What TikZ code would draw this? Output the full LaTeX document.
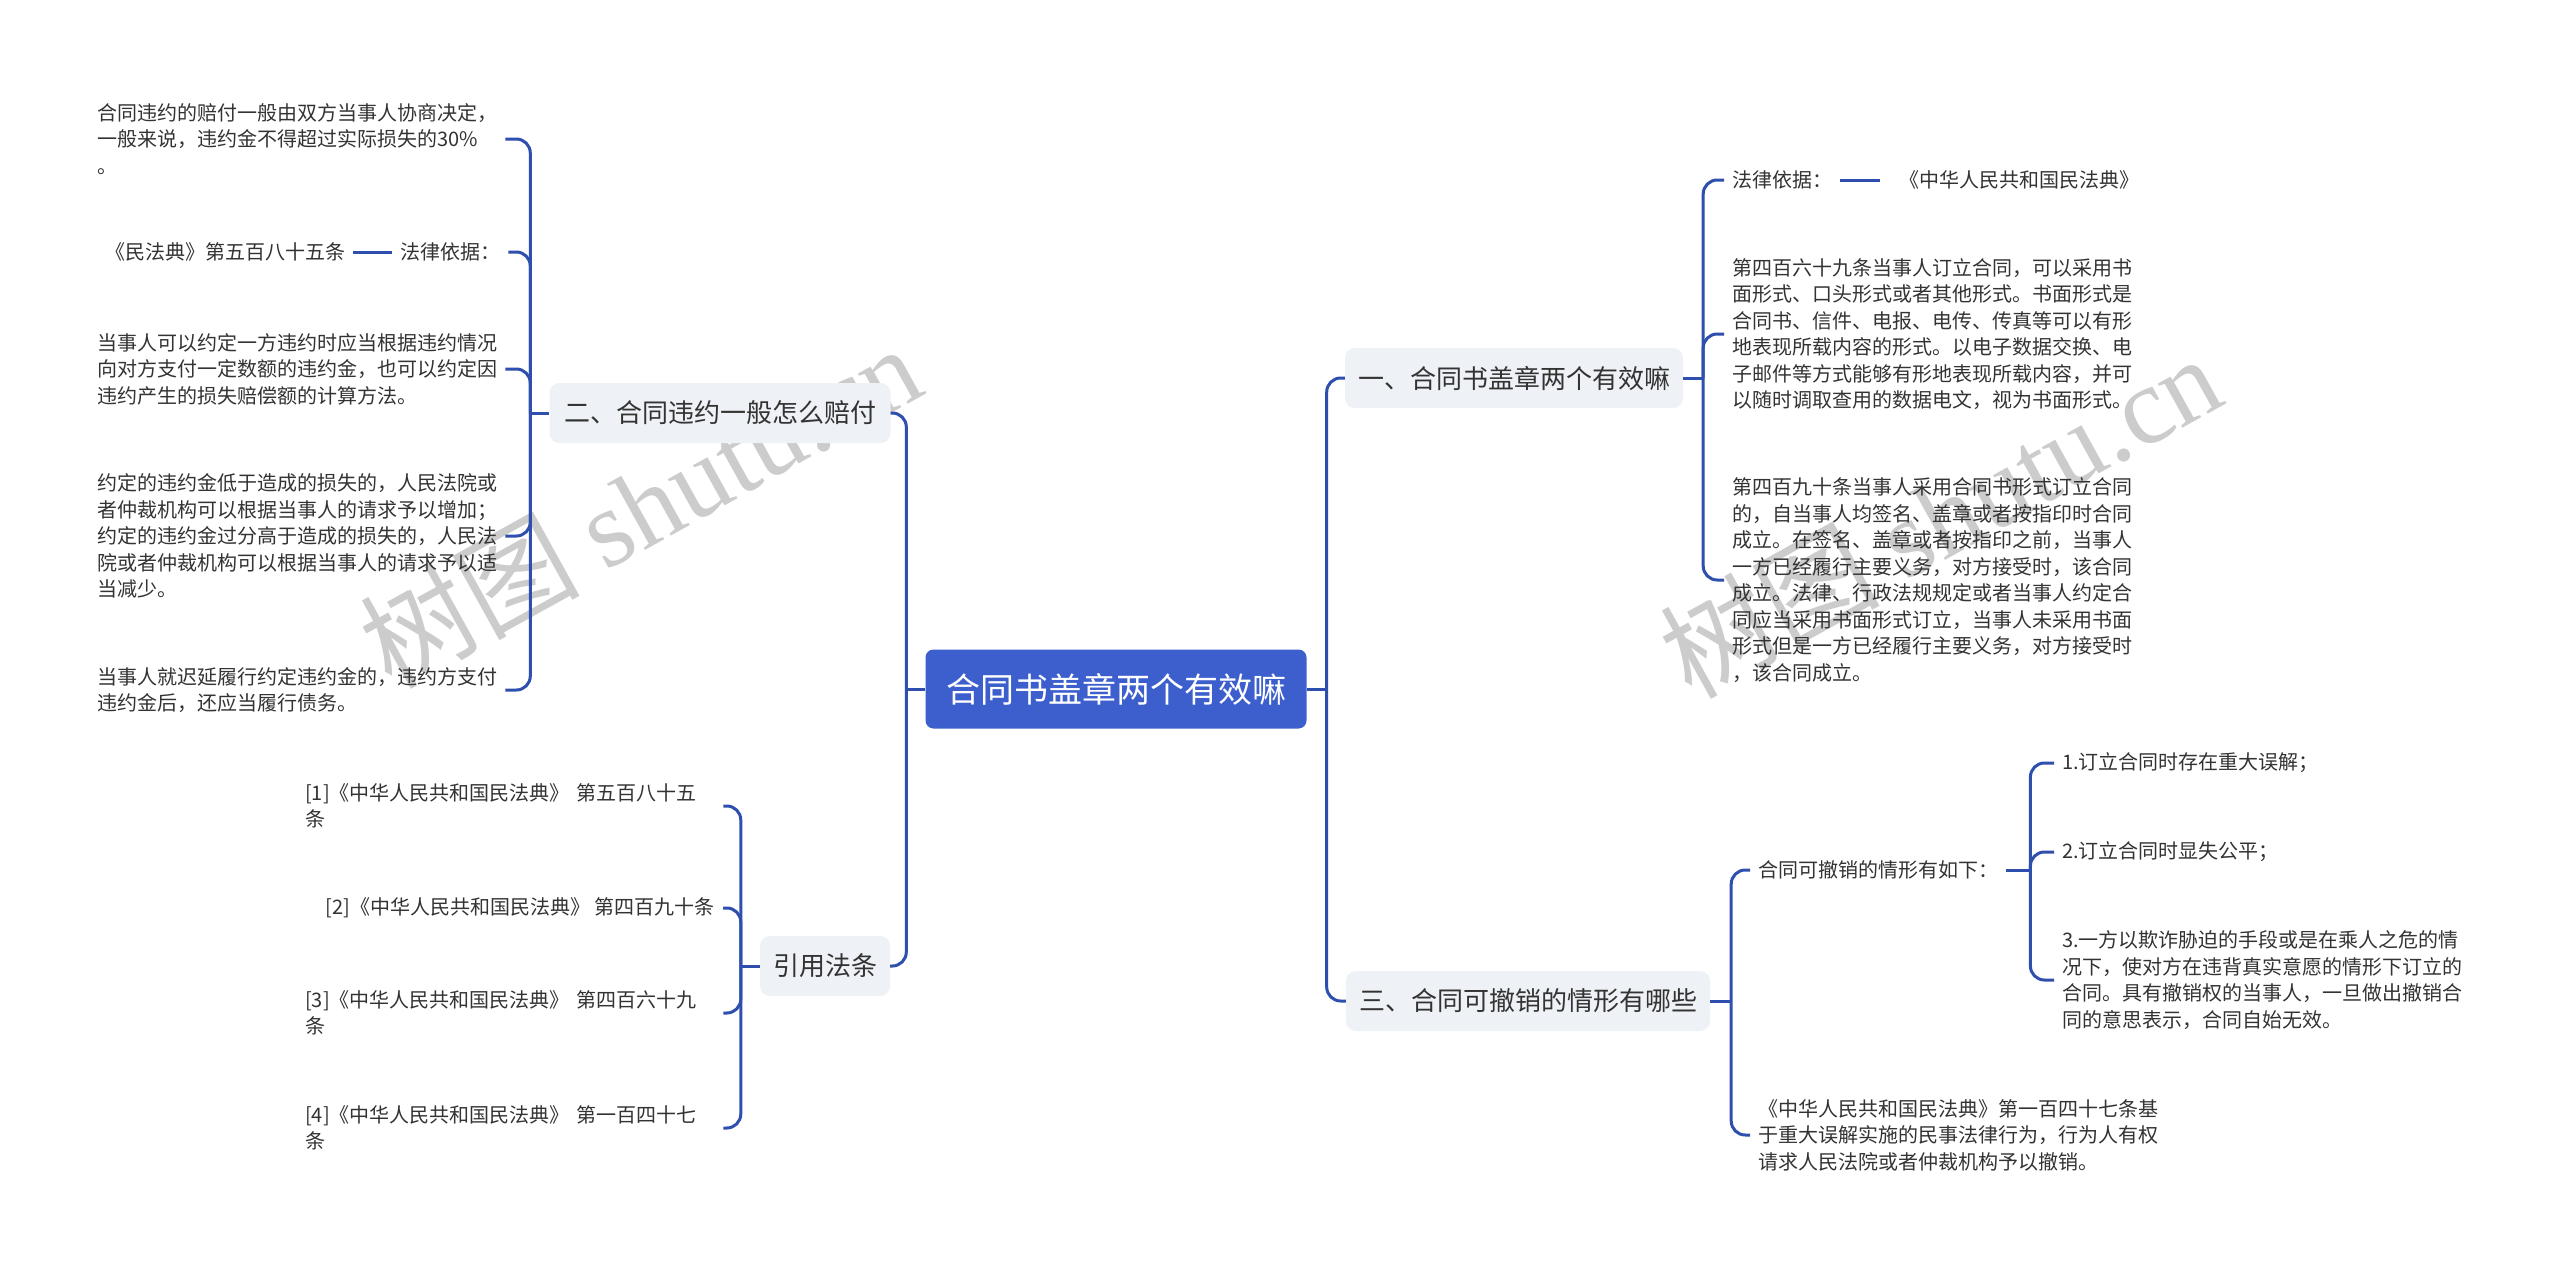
\documentclass[tikz,border=0pt]{standalone}
\usepackage{fontspec}
\setmainfont{Noto Sans CJK SC}
\newfontfamily\wmserif{Liberation Serif}
\definecolor{linec}{HTML}{2E4FAE}
\definecolor{rootc}{HTML}{3C5FCD}
\definecolor{boxc}{HTML}{EEF1F5}
\definecolor{txt}{HTML}{333333}
\begin{document}
\begin{tikzpicture}[x=1pt,y=-1pt,
 conn/.style={draw=linec, line width=3, rounded corners=14},
 rootbox/.style={fill=rootc, rounded corners=8, text=white, font=\fontsize{34}{40}\selectfont, minimum width=381, minimum height=79, inner sep=0},
 branch/.style={fill=boxc, rounded corners=10, text=txt, font=\fontsize{26}{32}\selectfont, minimum height=60, inner sep=0},
 leaf/.style={text=txt, font=\fontsize{20}{26.5}\selectfont, align=left, inner xsep=8, inner ysep=2},
 wm/.style={text=black!20, font=\fontsize{110}{120}\selectfont, inner sep=0, rotate=29}
]
\useasboundingbox (0,0) rectangle (2560,1269);
\fill[white] (0,0) rectangle (2560,1269);

% watermarks
\node[wm] (wm1) at (640,505) {树图 {\wmserif shutu.cn}};
\node[wm] (wm2) at (1940,515) {树图 {\wmserif shutu.cn}};

% root and branches
\node[rootbox] (root) at (1116,689) {合同书盖章两个有效嘛};
\node[branch, minimum width=338] (b1) at (1514,378) {一、合同书盖章两个有效嘛};
\node[branch, minimum width=364] (b3) at (1528,1001) {三、合同可撤销的情形有哪些};
\node[branch, minimum width=341] (b2) at (720,413) {二、合同违约一般怎么赔付};
\node[branch, minimum width=130] (b4) at (825,966) {引用法条};

% branch 1 leaves
\node[leaf, anchor=west] (c11) at (1724,180) {法律依据：};
\node[leaf, anchor=west] (c11b) at (1891,180) {《中华人民共和国民法典》};
\node[leaf, anchor=west] (c12) at (1724,334) {第四百六十九条当事人订立合同，可以采用书\\面形式、口头形式或者其他形式。书面形式是\\合同书、信件、电报、电传、传真等可以有形\\地表现所载内容的形式。以电子数据交换、电\\子邮件等方式能够有形地表现所载内容，并可\\以随时调取查用的数据电文，视为书面形式。};
\node[leaf, anchor=west] (c13) at (1724,580) {第四百九十条当事人采用合同书形式订立合同\\的，自当事人均签名、盖章或者按指印时合同\\成立。在签名、盖章或者按指印之前，当事人\\一方已经履行主要义务，对方接受时，该合同\\成立。法律、行政法规规定或者当事人约定合\\同应当采用书面形式订立，当事人未采用书面\\形式但是一方已经履行主要义务，对方接受时\\，该合同成立。};

% branch 3 leaves
\node[leaf, anchor=west] (c31) at (1750,870) {合同可撤销的情形有如下：};
\node[leaf, anchor=west] (c311) at (2054,763) {1.订立合同时存在重大误解；};
\node[leaf, anchor=west] (c312) at (2054,852) {2.订立合同时显失公平；};
\node[leaf, anchor=west] (c313) at (2054,980) {3.一方以欺诈胁迫的手段或是在乘人之危的情\\况下，使对方在违背真实意愿的情形下订立的\\合同。具有撤销权的当事人，一旦做出撤销合\\同的意思表示，合同自始无效。};
\node[leaf, anchor=west] (c32) at (1750,1135) {《中华人民共和国民法典》第一百四十七条基\\于重大误解实施的民事法律行为，行为人有权\\请求人民法院或者仲裁机构予以撤销。};

% branch 2 leaves
\node[leaf, anchor=west] (c21) at (89,139) {合同违约的赔付一般由双方当事人协商决定，\\一般来说，违约金不得超过实际损失的30\%\\。};
\node[leaf, anchor=west] (c22) at (392,252) {法律依据：};
\node[leaf, anchor=west] (c22b) at (97,252) {《民法典》第五百八十五条};
\node[leaf, anchor=west] (c23) at (89,369) {当事人可以约定一方违约时应当根据违约情况\\向对方支付一定数额的违约金，也可以约定因\\违约产生的损失赔偿额的计算方法。};
\node[leaf, anchor=west] (c24) at (89,536) {约定的违约金低于造成的损失的，人民法院或\\者仲裁机构可以根据当事人的请求予以增加；\\约定的违约金过分高于造成的损失的，人民法\\院或者仲裁机构可以根据当事人的请求予以适\\当减少。};
\node[leaf, anchor=west] (c25) at (89,690) {当事人就迟延履行约定违约金的，违约方支付\\违约金后，还应当履行债务。};

% branch 4 leaves
\node[leaf, anchor=west, text width=410] (c41) at (297,806) {[1]《中华人民共和国民法典》 第五百八十五\\条};
\node[leaf, anchor=east] (c42) at (723,908) {[2]《中华人民共和国民法典》 第四百九十条};
\node[leaf, anchor=west, text width=410] (c43) at (297,1013) {[3]《中华人民共和国民法典》 第四百六十九\\条};
\node[leaf, anchor=west, text width=410] (c44) at (297,1128) {[4]《中华人民共和国民法典》 第一百四十七\\条};

% junctions
\coordinate (rj) at ([xshift=20]root.east);
\coordinate (lj) at ([xshift=-19]root.west);
\coordinate (j1) at ([xshift=20]b1.east);
\coordinate (j3) at ([xshift=21]b3.east);
\coordinate (j31) at ([xshift=24]c31.east);
\coordinate (j2) at ([xshift=-19]b2.west);
\coordinate (j4) at ([xshift=-19]b4.west);

% trunk connectors
\draw[conn] (root.east) -- (rj);
\draw[conn] (rj) |- (b1.west);
\draw[conn] (rj) |- (b3.west);
\draw[conn] (root.west) -- (lj);
\draw[conn] (lj) |- (b2.east);
\draw[conn] (lj) |- (b4.east);

% branch 1
\draw[conn] (b1.east) -- (j1);
\draw[conn] (j1) |- (c11.west);
\draw[conn] (j1) |- (c12.west);
\draw[conn] (j1) |- (c13.west);
\draw[conn, shorten >=11] (c11.east) -- (c11b.west);

% branch 3
\draw[conn] (b3.east) -- (j3);
\draw[conn] (j3) |- (c31.west);
\draw[conn] (j3) |- (c32.west);
\draw[conn] (c31.east) -- (j31);
\draw[conn] (j31) |- (c311.west);
\draw[conn] (j31) |- (c312.west);
\draw[conn] (j31) |- (c313.west);

% branch 2
\draw[conn] (b2.west) -- (j2);
\draw[conn] (j2) |- (c21.east);
\draw[conn] (j2) |- (c22.east);
\draw[conn] (j2) |- (c23.east);
\draw[conn] (j2) |- (c24.east);
\draw[conn] (j2) |- (c25.east);
\draw[conn] (c22b.east) -- (c22.west);

% branch 4
\draw[conn] (b4.west) -- (j4);
\draw[conn] (j4) |- (c41.east);
\draw[conn] (j4) |- (c42.east);
\draw[conn] (j4) |- (c43.east);
\draw[conn] (j4) |- (c44.east);
\end{tikzpicture}
\end{document}
